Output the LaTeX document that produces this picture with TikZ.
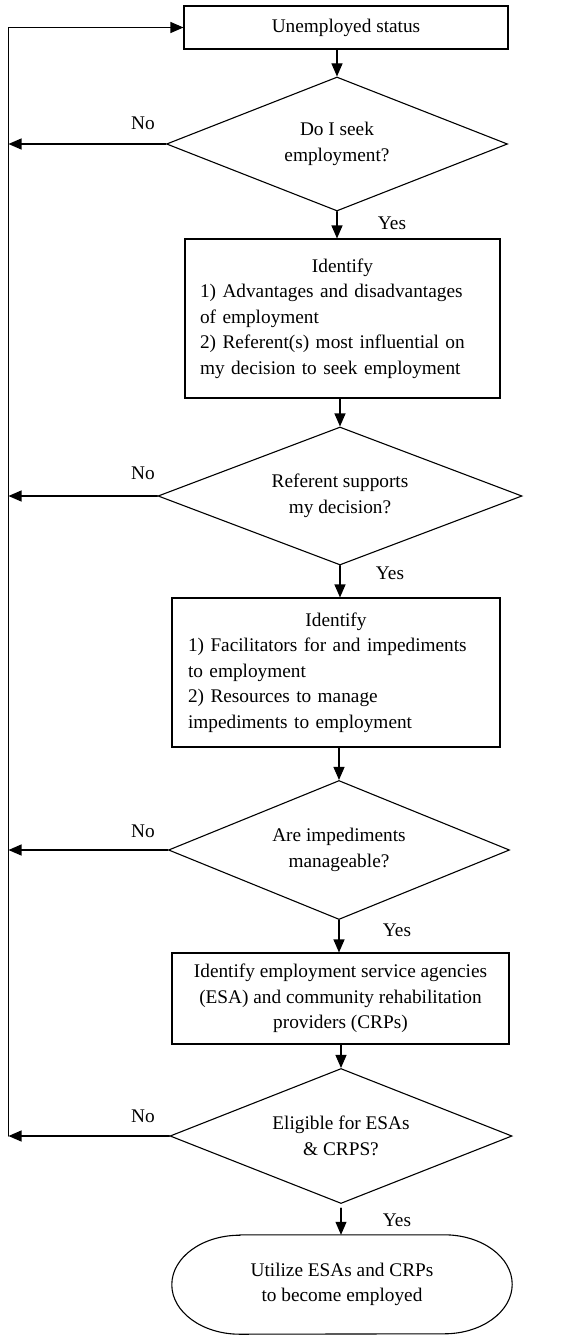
\documentclass[tikz,border=0pt]{standalone}
\usepackage{fontspec}
\setmainfont{Liberation Serif}
\usetikzlibrary{arrows.meta, shapes.geometric, positioning, calc}

\begin{document}
\begin{tikzpicture}[x=1pt, y=-1pt, line cap=round,
        every node/.style={font=\fontsize{19.3}{25.6}\selectfont},
        box/.style={draw, line width=1.1pt, inner sep=0pt},
        decision/.style={draw, diamond, aspect=2.5, line width=1.1pt, inner sep=0pt, align=center},
        lbl/.style={inner sep=0pt},
        arr/.style={line width=1.1pt, -{Triangle[length=13pt, width=11pt]}}]
        \useasboundingbox (0, 0) rectangle (572, 1335);
        % boxes and decisions
        \node [box, minimum width=324pt, minimum height=43pt] (unemp) at (346, 27.5) {Unemployed status};
        \node [decision, minimum width=341pt, minimum height=134pt] (seek) at (337, 144) {Do I seek\\employment?};
        \node [box, minimum width=315pt, minimum height=159pt, text width=285pt, align=left] (ident1) at (342.5, 318.5)
            {\makebox[285pt]{Identify}\\1) Advantages and disadvantages\\of employment\\2) Referent(s) most influential on\\my decision to seek employment};
        \node [decision, minimum width=364pt, minimum height=138pt] (ref) at (340, 496) {Referent supports\\my decision?};
        \node [box, minimum width=328pt, minimum height=149pt, text width=296pt, align=left] (ident2) at (336, 672.5)
            {\makebox[296pt]{Identify}\\1) Facilitators for and impediments\\to employment\\2) Resources to manage\\impediments to employment};
        \node [decision, minimum width=341pt, minimum height=139pt] (manage) at (339, 850) {Are impediments\\manageable?};
        \node [box, minimum width=337pt, minimum height=91pt, align=center] (esa) at (340.5, 998.5)
            {Identify employment service agencies\\(ESA) and community rehabilitation\\providers (CRPs)};
        \node [decision, minimum width=342pt, minimum height=135pt] (elig) at (341, 1136) {Eligible for ESAs\\\& CRPS?};
        \node [inner sep=0pt, minimum width=340pt, minimum height=99pt, align=center] (use) at (342, 1284.5)
            {Utilize ESAs and CRPs\\to become employed};
        \draw [line width=1.1pt] ([xshift=68pt]use.north west) -- ([xshift=-68pt]use.north east)
            arc [start angle=90, end angle=-90, x radius=68pt, y radius=49.5pt]
            -- ([xshift=68pt]use.south west)
            arc [start angle=270, end angle=90, x radius=68pt, y radius=49.5pt] -- cycle;
        % labels
        \node [lbl] (no1) at (143, 123) {No};
        \node [lbl] (no2) at (143, 473) {No};
        \node [lbl] (no3) at (143, 831) {No};
        \node [lbl] (no4) at (143, 1116) {No};
        \node [lbl] (yes1) at (392, 223) {Yes};
        \node [lbl] (yes2) at (390, 573) {Yes};
        \node [lbl] (yes3) at (397, 930) {Yes};
        \node [lbl] (yes4) at (397, 1220) {Yes};
        % main flow
        \draw [arr] (seek.north |- unemp.south) -- (seek.north);
        \draw [arr] (seek.south) -- (seek.south |- ident1.north);
        \draw [arr] (ident1.south -| ref.north) -- (ref.north);
        \draw [arr] (ref.south) -- (ref.south |- ident2.north);
        \draw [arr] (ident2.south -| manage.north) -- (manage.north);
        \draw [arr] (manage.south) -- (manage.south |- esa.north);
        \draw [arr] (esa.south -| elig.north) -- (elig.north);
        \draw [arr] ([yshift=-4pt]elig.south) -- (elig.south |- use.north);
        % loop back
        \coordinate (loopTop) at (8.5, 27.5);
        \coordinate (loopBot) at (8.5, 1136);
        \draw [arr] (loopBot) -- (loopTop) -- (unemp.west);
        \draw [arr] (seek.west) -- (seek.west -| loopTop);
        \draw [arr] (ref.west) -- (ref.west -| loopTop);
        \draw [arr] (manage.west) -- (manage.west -| loopTop);
        \draw [arr] (elig.west) -- (elig.west -| loopTop);
\end{tikzpicture}
\end{document}
